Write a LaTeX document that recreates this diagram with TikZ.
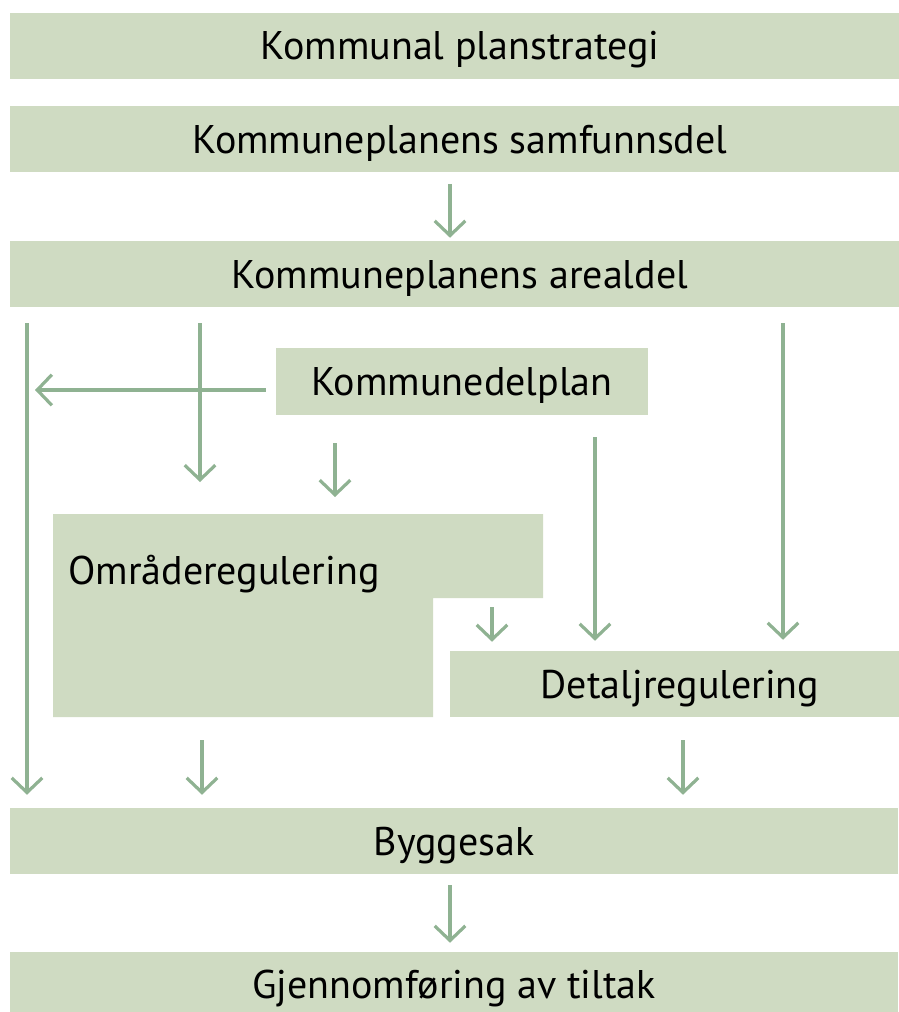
\documentclass[tikz,border=0pt]{standalone}
\usepackage{fontspec}
\setmainfont{PT Sans}
\usetikzlibrary{arrows.meta}
\definecolor{boxc}{HTML}{CFDBC2}
\definecolor{arrc}{HTML}{8FB292}
\begin{document}
\begin{tikzpicture}[x=0.75pt,y=-0.75pt,
  txt/.style={font=\fontsize{30}{34}\selectfont, text height=21pt, text depth=0pt},
  bar/.style={txt, fill=boxc, inner sep=0pt, minimum height=49.5pt},
  arr/.style={draw=arrc, line width=2.4pt, -{Straight Barb[length=11pt,width=23pt,line width=2.4pt]}}]
\useasboundingbox (0,0) rectangle (898,1012);
% boxes
\node[bar, minimum width=675pt] (kps) at (460,46) {Kommunal planstrategi};
\node[bar, minimum width=675pt] (ks) at (460,139.5) {Kommuneplanens samfunnsdel};
\node[bar, minimum width=675pt] (ka) at (460,274) {Kommuneplanens arealdel};
\node[bar, minimum width=279pt, minimum height=50pt] (kdp) at (462,381.5) {Kommunedelplan};
\fill[boxc] (53,514) -- (543,514) -- (543,598) -- (433,598) -- (433,717) -- (53,717) -- cycle;
\node[txt, anchor=west, inner sep=0pt] (omr) at (68,570) {Områderegulering};
\coordinate (omrs) at (200,717);
\node[bar, minimum width=345pt] (det) at (680,684) {Detaljregulering};
\node[bar, minimum width=666pt] (bg) at (454,841) {Byggesak};
\node[bar, minimum width=666pt, minimum height=48pt] (gj) at (454,984) {Gjennomføring av tiltak};
% x positions
\coordinate (x27) at (27,0);
\coordinate (x200) at (200,0);
\coordinate (x202) at (202,0);
\coordinate (x335) at (335,0);
\coordinate (x450) at (450,0);
\coordinate (x492) at (492,0);
\coordinate (x595) at (595,0);
\coordinate (x683) at (683,0);
\coordinate (x783) at (783,0);
\coordinate (t200) at (200,482);
\coordinate (t335) at (335,497);
\coordinate (s492) at (492,607);
\coordinate (l35) at (35,390);
% arrows
\draw[arr, shorten <=8.25pt, shorten >=2.25pt] (ks.south -| x450) -- (ka.north -| x450);
\draw[arr, shorten <=12pt, shorten >=9.75pt] (ka.south -| x27) -- (bg.north -| x27);
\draw[arr, shorten <=12pt] (ka.south -| x200) -- (t200);
\draw[arr, shorten <=12pt, shorten >=8.25pt] (ka.south -| x783) -- (det.north -| x783);
\draw[arr, shorten <=7.5pt] (kdp.west |- l35) -- (l35);
\draw[arr, shorten <=21pt] (kdp.south -| x335) -- (t335);
\draw[arr, shorten <=16.5pt, shorten >=7.5pt] (kdp.south -| x595) -- (det.north -| x595);
\draw[arr, shorten >=6.75pt] (s492) -- (det.north -| x492);
\draw[arr, shorten <=17.25pt, shorten >=9.75pt] (omrs -| x202) -- (bg.north -| x202);
\draw[arr, shorten <=17.25pt, shorten >=9.75pt] (det.south -| x683) -- (bg.north -| x683);
\draw[arr, shorten <=8.25pt, shorten >=6.75pt] (bg.south -| x450) -- (gj.north -| x450);
\end{tikzpicture}
\end{document}
